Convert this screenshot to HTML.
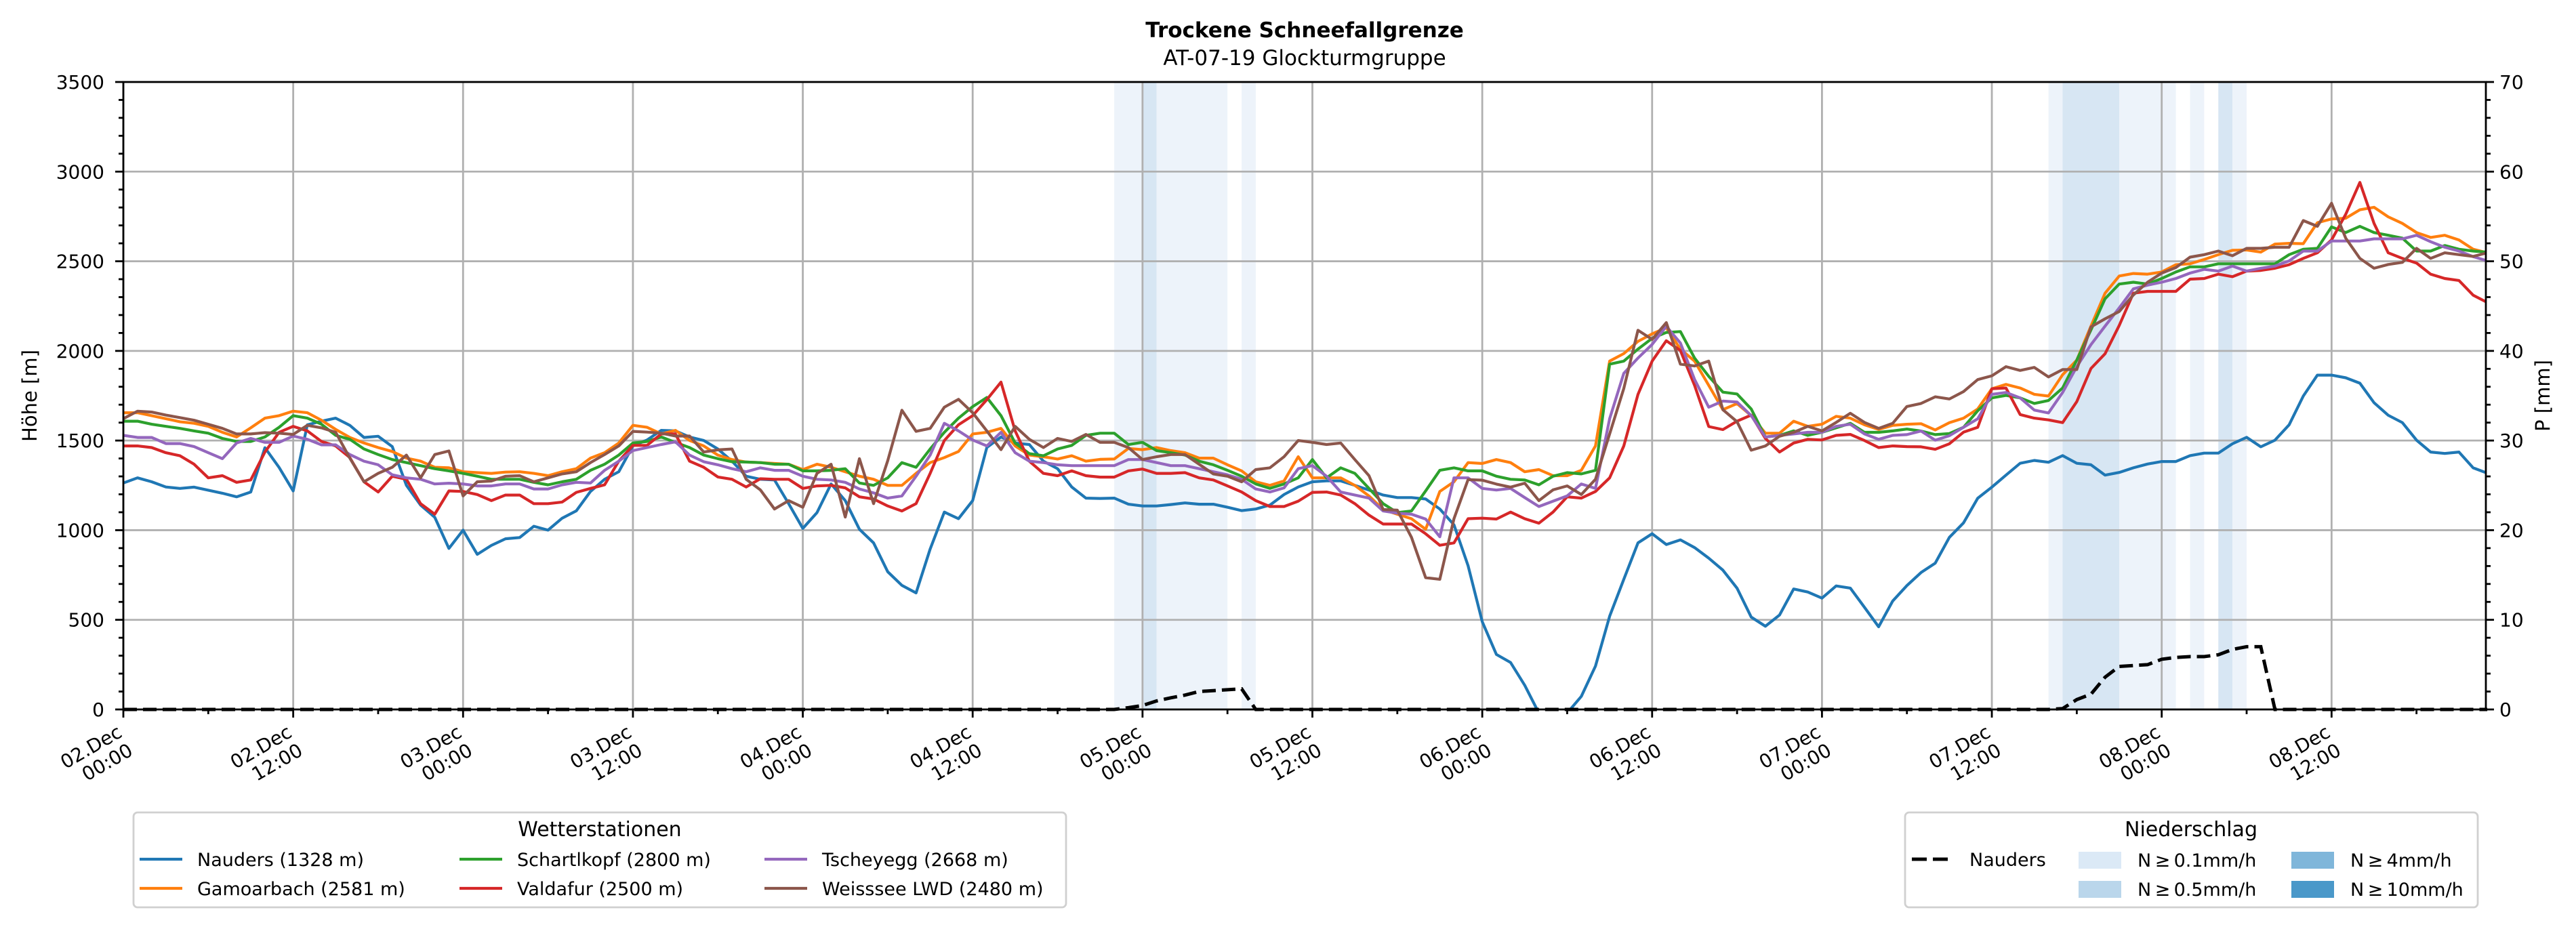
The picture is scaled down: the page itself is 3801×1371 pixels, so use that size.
<!DOCTYPE html>
<html><head><meta charset="utf-8"><title>Trockene Schneefallgrenze</title>
<style>
html,body{margin:0;padding:0;background:#fff;}
svg{display:block;font-family:"DejaVu Sans","Liberation Sans",sans-serif;}
</style></head>
<body>
<svg id="chart" xmlns="http://www.w3.org/2000/svg" width="3801" height="1371" viewBox="0 0 3801 1371">
<rect width="3801" height="1371" fill="#fff"/>
<text x="1925" y="55" text-anchor="middle" font-size="31" font-weight="bold">Trockene Schneefallgrenze</text>
<text x="1925" y="96" text-anchor="middle" font-size="31">AT-07-19 Glockturmgruppe</text>
<g id="bands"></g>
<g id="grid"></g>
<defs><clipPath id="clip"><rect x="182" y="121" width="3486" height="926"/></clipPath></defs>
<g id="lines" clip-path="url(#clip)"></g>
<g id="plines"></g>
<g id="axes"></g>
<text transform="translate(54,584) rotate(-90)" text-anchor="middle" font-size="29">Höhe [m]</text>
<text transform="translate(3762,584) rotate(-90)" text-anchor="middle" font-size="29">P [mm]</text>
<g id="legend1"></g>
<g id="legend2"></g>
</svg>
<script>
const stationNames = ["Nauders (1328 m)","Gamoarbach (2581 m)","Schartlkopf (2800 m)","Valdafur (2500 m)","Tscheyegg (2668 m)","Weisssee LWD (2480 m)"];
const nauders = [1263,1292,1270,1241,1233,1240,1223,1206,1186,1213,1460,1350,1219,1588,1608,1625,1585,1517,1524,1466,1250,1140,1072,898,1000,865,915,952,959,1022,1000,1067,1108,1216,1284,1326,1470,1503,1557,1554,1520,1500,1453,1385,1301,1284,1280,1148,1010,1098,1258,1165,1005,929,768,692,650,895,1101,1064,1165,1461,1520,1486,1478,1385,1343,1241,1179,1177,1179,1145,1135,1135,1143,1152,1145,1145,1128,1109,1118,1140,1199,1241,1270,1275,1275,1250,1224,1196,1182,1182,1174,1118,1030,802,490,307,262,135,-20,-60,-20,73,242,520,726,929,980,920,946,903,844,777,676,515,464,527,672,655,621,689,677,570,461,605,691,764,816,960,1041,1178,1240,1307,1373,1389,1379,1416,1373,1365,1307,1322,1348,1369,1383,1383,1416,1430,1430,1482,1518,1465,1502,1588,1748,1865,1865,1850,1820,1711,1641,1600,1502,1436,1428,1436,1348,1318];
const gamoarbach = [1655,1655,1639,1622,1605,1596,1579,1546,1520,1571,1625,1639,1664,1655,1613,1562,1517,1486,1461,1439,1402,1385,1351,1348,1326,1321,1317,1324,1326,1317,1304,1326,1343,1402,1432,1486,1585,1574,1537,1557,1500,1470,1419,1394,1380,1377,1372,1368,1338,1368,1351,1326,1301,1284,1250,1250,1317,1377,1405,1439,1537,1546,1568,1470,1419,1410,1397,1415,1385,1395,1397,1456,1449,1461,1444,1432,1402,1402,1365,1331,1270,1250,1275,1410,1292,1292,1292,1250,1191,1115,1089,1064,1005,1216,1270,1377,1372,1394,1377,1326,1338,1304,1304,1334,1470,1943,1985,2053,2095,2129,2010,1943,1808,1672,1706,1639,1541,1541,1608,1579,1591,1635,1625,1588,1562,1585,1591,1594,1559,1600,1625,1676,1789,1813,1793,1758,1748,1867,1949,2138,2322,2418,2432,2428,2440,2481,2486,2510,2537,2561,2563,2551,2596,2600,2598,2715,2736,2740,2787,2801,2748,2711,2660,2633,2645,2619,2567,2547];
const schartlkopf = [1608,1608,1591,1579,1568,1554,1541,1512,1495,1495,1520,1574,1639,1625,1591,1529,1507,1453,1422,1394,1377,1360,1343,1331,1317,1301,1284,1284,1284,1267,1253,1270,1284,1334,1368,1419,1486,1495,1520,1490,1461,1419,1399,1382,1380,1377,1368,1368,1331,1331,1334,1343,1263,1250,1292,1377,1351,1453,1546,1625,1689,1740,1639,1486,1427,1415,1453,1473,1529,1541,1541,1478,1490,1444,1432,1419,1385,1365,1334,1301,1258,1233,1258,1292,1394,1292,1348,1317,1233,1148,1098,1107,1219,1334,1348,1331,1331,1301,1284,1280,1253,1301,1321,1314,1334,1926,1943,2010,2070,2103,2108,1960,1858,1770,1760,1676,1520,1529,1554,1529,1546,1571,1596,1546,1546,1554,1564,1553,1533,1539,1574,1666,1738,1752,1738,1707,1723,1793,1949,2117,2291,2373,2383,2373,2404,2440,2469,2469,2486,2486,2486,2486,2486,2537,2567,2572,2692,2660,2695,2660,2645,2629,2557,2557,2588,2567,2557,2551];
const valdafur = [1470,1470,1461,1432,1415,1368,1292,1304,1267,1280,1436,1546,1579,1554,1495,1470,1405,1270,1213,1301,1284,1148,1089,1219,1216,1199,1165,1196,1196,1148,1148,1157,1211,1233,1253,1385,1473,1473,1537,1537,1385,1351,1297,1284,1241,1287,1284,1284,1233,1247,1250,1236,1186,1174,1135,1107,1148,1317,1500,1588,1639,1728,1826,1554,1385,1317,1304,1331,1304,1296,1296,1331,1341,1317,1317,1321,1292,1280,1247,1213,1165,1132,1132,1162,1211,1213,1196,1148,1084,1034,1034,1034,980,916,929,1064,1067,1062,1101,1064,1039,1101,1186,1179,1216,1292,1470,1757,1943,2057,2002,1808,1578,1561,1608,1642,1512,1436,1486,1507,1503,1529,1534,1500,1461,1470,1466,1465,1451,1482,1547,1574,1789,1793,1645,1625,1615,1600,1717,1902,1984,2142,2322,2332,2332,2332,2400,2404,2428,2414,2445,2449,2461,2481,2516,2547,2619,2762,2940,2711,2547,2516,2490,2428,2404,2393,2311,2270];
const tscheyegg = [1529,1517,1517,1483,1483,1466,1432,1399,1486,1512,1490,1490,1525,1507,1476,1476,1422,1385,1365,1309,1292,1284,1258,1262,1258,1247,1247,1258,1258,1230,1230,1253,1267,1263,1334,1385,1444,1461,1478,1493,1419,1382,1365,1343,1326,1348,1334,1334,1301,1284,1280,1267,1230,1208,1179,1191,1301,1419,1596,1554,1503,1470,1546,1432,1385,1377,1365,1360,1360,1360,1360,1394,1394,1377,1360,1360,1343,1326,1309,1284,1230,1213,1236,1343,1360,1301,1213,1196,1179,1107,1095,1089,1062,963,1292,1292,1233,1224,1233,1182,1132,1162,1191,1258,1233,1622,1875,1960,2036,2137,2044,1841,1686,1720,1715,1639,1520,1529,1537,1546,1546,1579,1591,1537,1507,1529,1533,1553,1502,1527,1574,1621,1758,1768,1738,1670,1654,1768,1912,2035,2138,2240,2346,2367,2383,2404,2434,2455,2445,2473,2445,2461,2473,2502,2557,2557,2613,2613,2613,2625,2625,2625,2645,2609,2578,2557,2526,2502];
const weisssee = [1622,1664,1659,1642,1628,1613,1591,1568,1537,1537,1544,1541,1534,1585,1571,1546,1402,1270,1317,1351,1419,1292,1422,1442,1191,1270,1274,1301,1304,1270,1292,1314,1326,1377,1422,1470,1551,1547,1541,1525,1525,1436,1448,1453,1284,1225,1118,1165,1128,1317,1368,1073,1399,1148,1388,1669,1551,1568,1686,1730,1655,1554,1449,1579,1507,1461,1512,1495,1534,1490,1490,1461,1394,1410,1422,1422,1368,1314,1301,1270,1338,1348,1410,1500,1490,1478,1486,1394,1304,1115,1112,960,735,726,1064,1282,1279,1257,1240,1262,1165,1225,1247,1199,1284,1537,1791,2115,2064,2158,1926,1916,1943,1672,1605,1446,1470,1524,1546,1579,1554,1601,1652,1601,1568,1596,1690,1707,1744,1732,1773,1840,1861,1912,1891,1908,1855,1896,1896,2134,2179,2220,2312,2383,2434,2465,2523,2537,2557,2531,2572,2572,2578,2578,2727,2695,2824,2629,2516,2461,2482,2494,2572,2516,2547,2537,2527,2547];
const precipNauders = [0,0,0,0,0,0,0,0,0,0,0,0,0,0,0,0,0,0,0,0,0,0,0,0,0,0,0,0,0,0,0,0,0,0,0,0,0,0,0,0,0,0,0,0,0,0,0,0,0,0,0,0,0,0,0,0,0,0,0,0,0,0,0,0,0,0,0,0,0,0,
0,0.2,0.44,0.95,1.3,1.6,2.0,2.1,2.2,2.3,
0,0,0,0,0,0,0,0,0,0,0,0,0,0,0,0,0,0,0,0,0,0,0,0,0,0,0,0,0,0,0,0,0,0,0,0,0,0,0,0,0,0,0,0,0,0,0,0,0,0,0,0,0,0,0,0,
0,0.1,1.1,1.7,3.6,4.8,4.9,5.0,5.6,5.8,5.9,5.9,6.1,6.7,7.0,7.0,
0,0,0,0,0,0,0,0,0,0,0,0,0,0,0,0];
const bandStart = [70,72,73,79,136,137,141,146,148,149];
const bandEnd   = [72,73,78,80,137,141,145,147,149,150];
const bandLevel = [1,2,1,1,1,2,1,1,2,1];
const xTickLabels = ["02.Dec","02.Dec","03.Dec","03.Dec","04.Dec","04.Dec","05.Dec","05.Dec","06.Dec","06.Dec","07.Dec","07.Dec","08.Dec","08.Dec"];
const xTickTimes = ["00:00","12:00","00:00","12:00","00:00","12:00","00:00","12:00","00:00","12:00","00:00","12:00","00:00","12:00"];
const yTicks = [0,500,1000,1500,2000,2500,3000,3500];
const y2Ticks = [0,10,20,30,40,50,60,70];

const NS="http://www.w3.org/2000/svg";
const L=182,R=3668,T=121,B=1047,XMAX=166.9,YMAX=3500,PMAX=70;
const xS=h=>L+h*(R-L)/XMAX;
const yS=v=>B-v*(B-T)/YMAX;
const yP=p=>B-p*(B-T)/PMAX;
function mk(tag,attrs,parent){const e=document.createElementNS(NS,tag);for(const k in attrs)e.setAttribute(k,attrs[k]);parent.appendChild(e);return e;}
const bandColors=["#ffffff","#edf3fa","#d7e6f3","#7fb6da","#4a98c9"];
const gB=document.getElementById('bands');
bandStart.forEach((s,i)=>{
  const r=mk('rect',{x:xS(s),y:T,width:xS(bandEnd[i])-xS(s),height:B-T,fill:bandColors[bandLevel[i]]},gB);
  
  
});
const gG=document.getElementById('grid');
for(let i=0;i<xTickLabels.length;i++){
  const x=xS(i*12);
  const l=mk('line',{x1:x,x2:x,y1:T,y2:B,stroke:"#b0b0b0","stroke-width":2.8},gG);
  
  
}
yTicks.forEach(v=>{
  const l=mk('line',{x1:L,x2:R,y1:yS(v),y2:yS(v),stroke:"#b0b0b0","stroke-width":2.8},gG);
  
  
});
const colors=["#1f77b4","#ff7f0e","#2ca02c","#d62728","#9467bd","#8c564b"];
const series=[nauders,gamoarbach,schartlkopf,valdafur,tscheyegg,weisssee];
const seriesNames=["line-nauders","line-gamoarbach","line-schartlkopf","line-valdafur","line-tscheyegg","line-weisssee"];
const gL=document.getElementById('lines');
series.forEach((s,i)=>{
  const pts=s.map((v,h)=>xS(h).toFixed(1)+","+yS(v).toFixed(1)).join(" ");
  const p=mk('polyline',{points:pts,fill:"none",stroke:colors[i],"stroke-width":4.2,"stroke-linejoin":"round"},gL);
  
  
});
const gP=document.getElementById('plines');
const ppts=precipNauders.map((v,h)=>xS(h).toFixed(1)+","+yP(v).toFixed(1)).join(" ");
const pl=mk('polyline',{points:ppts,fill:"none",stroke:"#000","stroke-width":5,"stroke-dasharray":"20 9"},gP);


const gA=document.getElementById('axes');
const frame=mk('rect',{x:L,y:T,width:R-L,height:B-T,fill:"none",stroke:"#000","stroke-width":2.8},gA);


for(let h=0;h<=XMAX;h+=6){
  const major=(h%12===0);
  const t=mk('line',{x1:xS(h),x2:xS(h),y1:B,y2:B+(major?12:7),stroke:"#000","stroke-width":2.8},gA);
  
  
}
xTickLabels.forEach((lab,i)=>{
  const x=xS(i*12);
  const t1=mk('text',{x:0,y:0,"text-anchor":"end","font-size":28,transform:`translate(${x},1086) rotate(-30)`},gA);
  t1.textContent=lab;
  
  
  const t2=mk('text',{x:0,y:0,"text-anchor":"end","font-size":28,transform:`translate(${x+16},1113) rotate(-30)`},gA);
  t2.textContent=xTickTimes[i];
  
  
});
for(let v=0;v<=YMAX;v+=100){
  const major=(v%500===0);
  const t=mk('line',{x1:L,x2:L-(major?12:7),y1:yS(v),y2:yS(v),stroke:"#000","stroke-width":2.8},gA);
  
  
}
yTicks.forEach(v=>{
  const t=mk('text',{x:154,y:yS(v)+10,"text-anchor":"end","font-size":28},gA);
  t.textContent=v;
  
  
});
for(let p=0;p<=PMAX;p+=2){
  const major=(p%10===0);
  const t=mk('line',{x1:R,x2:R+(major?12:7),y1:yP(p),y2:yP(p),stroke:"#000","stroke-width":2.8},gA);
  
  
}
y2Ticks.forEach(p=>{
  const t=mk('text',{x:3688,y:yP(p)+10,"font-size":28},gA);
  t.textContent=p;
  
  
});
// legend 1
const g1=document.getElementById('legend1');
const b1=mk('rect',{x:197,y:1199,width:1376,height:140,rx:6,fill:"#fff",stroke:"#d0d0d0","stroke-width":2.8},g1);


const lt1=mk('text',{x:885,y:1234,"text-anchor":"middle","font-size":30},g1);
lt1.textContent="Wetterstationen";


const colX=[206,678,1128], rowY=[1268,1311];
const entryNames=["legend-entry-nauders","legend-entry-gamoarbach","legend-entry-schartlkopf","legend-entry-valdafur","legend-entry-tscheyegg","legend-entry-weisssee"];
stationNames.forEach((n,i)=>{
  const c=Math.floor(i/2), r=i%2;
  const g=mk('g',{},g1);
  
  
  mk('line',{x1:colX[c],x2:colX[c]+63,y1:rowY[r],y2:rowY[r],stroke:colors[i],"stroke-width":4.2},g);
  const t=mk('text',{x:colX[c]+85,y:rowY[r]+10,"font-size":27},g);
  t.textContent=n;
});
// legend 2
const g2=document.getElementById('legend2');
const b2=mk('rect',{x:2811,y:1199,width:845,height:140,rx:6,fill:"#fff",stroke:"#d0d0d0","stroke-width":2.8},g2);


const lt2=mk('text',{x:3233,y:1234,"text-anchor":"middle","font-size":30},g2);
lt2.textContent="Niederschlag";


const gN=mk('g',{},g2);


mk('line',{x1:2821,x2:2879,y1:1268,y2:1268,stroke:"#000","stroke-width":5,"stroke-dasharray":"22 9"},gN);
const tn=mk('text',{x:2906,y:1278,"font-size":27},gN);
tn.textContent="Nauders";
const patchLabels=["N\u2009\u2265\u20090.1mm/h","N\u2009\u2265\u20090.5mm/h","N\u2009\u2265\u20094mm/h","N\u2009\u2265\u200910mm/h"];
const patchColors=["#dbe9f6","#bad6eb","#7fb6da","#4a98c9"];
const pX=[3067,3067,3381,3381], pY=[1257,1300,1257,1300];
patchLabels.forEach((lab,i)=>{
  const g=mk('g',{},g2);
  
  
  mk('rect',{x:pX[i],y:pY[i],width:63,height:25,fill:patchColors[i]},g);
  const t=mk('text',{x:pX[i]+87,y:pY[i]+22,"font-size":27},g);
  t.textContent=lab;
});
</script>
</body></html>
